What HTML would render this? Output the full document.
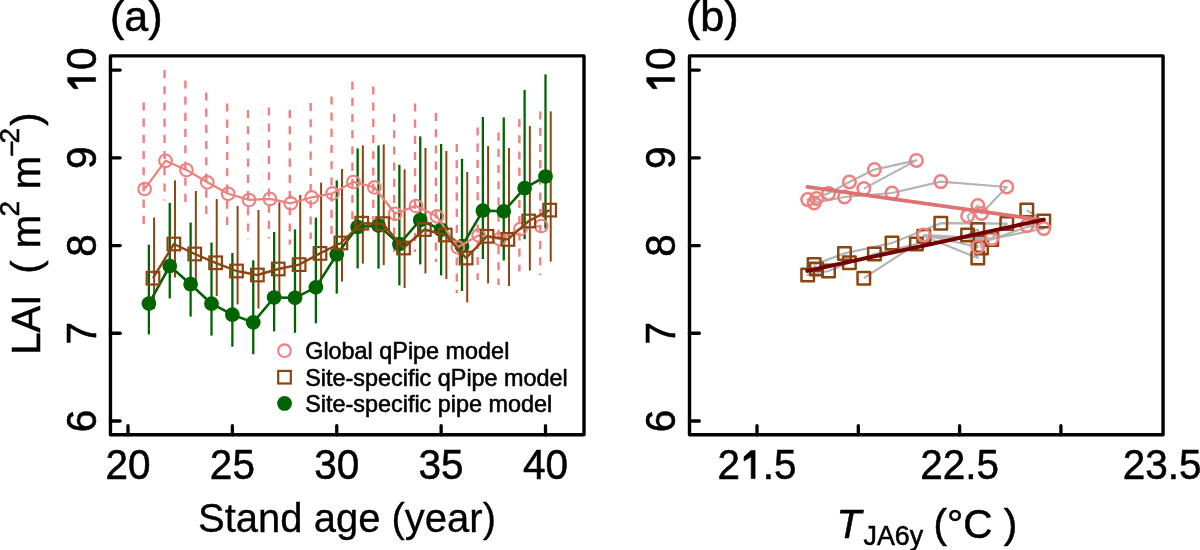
<!DOCTYPE html><html><head><meta charset="utf-8"><style>html,body{margin:0;padding:0;background:#fff;overflow:hidden}svg{display:block;will-change:transform}text{font-family:"Liberation Sans", sans-serif;stroke:#000;stroke-width:0.55px;paint-order:stroke}</style></head><body>
<svg width="1200" height="550" viewBox="0 0 1200 550">
<rect width="1200" height="550" fill="#fff"/>
<g stroke="#F08080" stroke-width="2.4" stroke-dasharray="8.1 8.1" fill="none"><line x1="143.66" y1="102.4" x2="143.66" y2="228"/><line x1="164.53" y1="70" x2="164.53" y2="200.4"/><line x1="185.41" y1="80.4" x2="185.41" y2="209.6"/><line x1="206.28" y1="92.4" x2="206.28" y2="222"/><line x1="227.16" y1="103.4" x2="227.16" y2="233"/><line x1="248.03" y1="110" x2="248.03" y2="240"/><line x1="268.9" y1="107.4" x2="268.9" y2="238.4"/><line x1="289.78" y1="110" x2="289.78" y2="244.4"/><line x1="310.65" y1="103" x2="310.65" y2="239"/><line x1="331.53" y1="96.4" x2="331.53" y2="235.5"/><line x1="352.4" y1="81.6" x2="352.4" y2="225.6"/><line x1="373.28" y1="86.4" x2="373.28" y2="231.3"/><line x1="394.15" y1="114" x2="394.15" y2="257"/><line x1="415.03" y1="103.4" x2="415.03" y2="252"/><line x1="435.9" y1="113" x2="435.9" y2="262"/><line x1="456.78" y1="144" x2="456.78" y2="293"/><line x1="477.65" y1="127.4" x2="477.65" y2="280"/><line x1="498.53" y1="132.6" x2="498.53" y2="285"/><line x1="519.4" y1="119" x2="519.4" y2="271.4"/><line x1="540.28" y1="111.5" x2="540.28" y2="275"/></g>
<g stroke="#8B4513" stroke-width="2" fill="none"><line x1="154.09" y1="217.6" x2="154.09" y2="309"/><line x1="174.97" y1="180.4" x2="174.97" y2="277.5"/><line x1="195.84" y1="191" x2="195.84" y2="286"/><line x1="216.72" y1="199" x2="216.72" y2="296"/><line x1="237.59" y1="206" x2="237.59" y2="304.3"/><line x1="258.47" y1="210" x2="258.47" y2="308.5"/><line x1="279.35" y1="202.4" x2="279.35" y2="299"/><line x1="300.22" y1="195" x2="300.22" y2="293"/><line x1="321.1" y1="182.6" x2="321.1" y2="285"/><line x1="341.97" y1="169" x2="341.97" y2="281.6"/><line x1="362.85" y1="145.4" x2="362.85" y2="263.6"/><line x1="383.72" y1="144.4" x2="383.72" y2="265"/><line x1="404.6" y1="169.4" x2="404.6" y2="288"/><line x1="425.47" y1="148" x2="425.47" y2="273.4"/><line x1="446.35" y1="151" x2="446.35" y2="279"/><line x1="467.22" y1="172" x2="467.22" y2="302.4"/><line x1="488.1" y1="146" x2="488.1" y2="283.4"/><line x1="508.97" y1="148" x2="508.97" y2="286"/><line x1="529.85" y1="126" x2="529.85" y2="270.6"/><line x1="550.72" y1="111.4" x2="550.72" y2="261.6"/></g>
<g stroke="#006400" stroke-width="2.3" fill="none"><line x1="148.88" y1="244.7" x2="148.88" y2="334.4"/><line x1="169.75" y1="203" x2="169.75" y2="298.4"/><line x1="190.62" y1="222.6" x2="190.62" y2="316.6"/><line x1="211.5" y1="242.5" x2="211.5" y2="335.6"/><line x1="232.38" y1="253" x2="232.38" y2="346.7"/><line x1="253.25" y1="260.3" x2="253.25" y2="354.2"/><line x1="274.12" y1="232" x2="274.12" y2="331.5"/><line x1="295" y1="229.4" x2="295" y2="332.8"/><line x1="315.88" y1="217.6" x2="315.88" y2="323.4"/><line x1="336.75" y1="180.4" x2="336.75" y2="293.6"/><line x1="357.62" y1="148.4" x2="357.62" y2="268.4"/><line x1="378.5" y1="145.4" x2="378.5" y2="268.6"/><line x1="399.38" y1="164.8" x2="399.38" y2="285.4"/><line x1="420.25" y1="136.4" x2="420.25" y2="264.4"/><line x1="441.12" y1="144" x2="441.12" y2="275.4"/><line x1="462" y1="158.8" x2="462" y2="291"/><line x1="482.88" y1="117" x2="482.88" y2="259"/><line x1="503.75" y1="117.4" x2="503.75" y2="260.5"/><line x1="524.62" y1="90" x2="524.62" y2="239.2"/><line x1="545.5" y1="74.4" x2="545.5" y2="228.6"/></g>
<polyline points="148.88,303.6 169.75,266 190.62,284.2 211.5,303.7 232.38,314.7 253.25,322.4 274.12,297.5 295,297.8 315.88,287.4 336.75,254.5 357.62,227 378.5,225.6 399.38,244 420.25,220 441.12,229.8 462,246.2 482.88,210.6 503.75,211.3 524.62,188.2 545.5,176.5" fill="none" stroke="#006400" stroke-width="2.6" stroke-linejoin="round"/>
<g fill="#006400"><circle cx="148.88" cy="303.6" r="7.35"/><circle cx="169.75" cy="266" r="7.35"/><circle cx="190.62" cy="284.2" r="7.35"/><circle cx="211.5" cy="303.7" r="7.35"/><circle cx="232.38" cy="314.7" r="7.35"/><circle cx="253.25" cy="322.4" r="7.35"/><circle cx="274.12" cy="297.5" r="7.35"/><circle cx="295" cy="297.8" r="7.35"/><circle cx="315.88" cy="287.4" r="7.35"/><circle cx="336.75" cy="254.5" r="7.35"/><circle cx="357.62" cy="227" r="7.35"/><circle cx="378.5" cy="225.6" r="7.35"/><circle cx="399.38" cy="244" r="7.35"/><circle cx="420.25" cy="220" r="7.35"/><circle cx="441.12" cy="229.8" r="7.35"/><circle cx="462" cy="246.2" r="7.35"/><circle cx="482.88" cy="210.6" r="7.35"/><circle cx="503.75" cy="211.3" r="7.35"/><circle cx="524.62" cy="188.2" r="7.35"/><circle cx="545.5" cy="176.5" r="7.35"/></g>
<polyline points="144.66,188.9 165.53,160.7 186.41,169.9 207.28,182.3 228.16,193.7 249.03,199.9 269.9,198.9 290.78,203.3 311.65,197.3 332.53,193.3 353.4,181.9 374.28,187.3 395.15,213.7 416.03,205.9 436.9,216.3 457.78,247.3 478.65,235.3 499.53,238.9 520.4,228.9 541.28,225.9" fill="none" stroke="#F08080" stroke-width="2.2" stroke-linejoin="round"/>
<g fill="none" stroke="#F08080" stroke-width="2.1"><circle cx="144.66" cy="189" r="6.3"/><circle cx="165.53" cy="160.8" r="6.3"/><circle cx="186.41" cy="170" r="6.3"/><circle cx="207.28" cy="182.4" r="6.3"/><circle cx="228.16" cy="193.8" r="6.3"/><circle cx="249.03" cy="200" r="6.3"/><circle cx="269.9" cy="199" r="6.3"/><circle cx="290.78" cy="203.4" r="6.3"/><circle cx="311.65" cy="197.4" r="6.3"/><circle cx="332.53" cy="193.4" r="6.3"/><circle cx="353.4" cy="182" r="6.3"/><circle cx="374.28" cy="187.4" r="6.3"/><circle cx="395.15" cy="213.8" r="6.3"/><circle cx="416.03" cy="206" r="6.3"/><circle cx="436.9" cy="216.4" r="6.3"/><circle cx="457.78" cy="247.4" r="6.3"/><circle cx="478.65" cy="235.4" r="6.3"/><circle cx="499.53" cy="239" r="6.3"/><circle cx="520.4" cy="229" r="6.3"/><circle cx="541.28" cy="226" r="6.3"/></g>
<polyline points="153,278.2 173.87,244 194.75,254 215.62,262.8 236.5,271 257.37,275 278.25,269 299.12,264.6 320,253.4 340.87,243 361.75,223.2 382.62,223.6 403.5,248 424.37,229.5 445.25,235 466.12,258 487,236.3 507.87,239.4 528.75,221 549.62,210.1" fill="none" stroke="#8B4513" stroke-width="2.4" stroke-linejoin="round"/>
<g fill="none" stroke="#8B4513" stroke-width="2.2"><rect x="146.69" y="271.9" width="12.6" height="12.6"/><rect x="167.57" y="237.7" width="12.6" height="12.6"/><rect x="188.44" y="247.7" width="12.6" height="12.6"/><rect x="209.32" y="256.5" width="12.6" height="12.6"/><rect x="230.19" y="264.7" width="12.6" height="12.6"/><rect x="251.07" y="268.7" width="12.6" height="12.6"/><rect x="271.94" y="262.7" width="12.6" height="12.6"/><rect x="292.82" y="258.3" width="12.6" height="12.6"/><rect x="313.69" y="247.1" width="12.6" height="12.6"/><rect x="334.57" y="236.7" width="12.6" height="12.6"/><rect x="355.44" y="216.9" width="12.6" height="12.6"/><rect x="376.32" y="217.3" width="12.6" height="12.6"/><rect x="397.19" y="241.7" width="12.6" height="12.6"/><rect x="418.07" y="223.2" width="12.6" height="12.6"/><rect x="438.94" y="228.7" width="12.6" height="12.6"/><rect x="459.82" y="251.7" width="12.6" height="12.6"/><rect x="480.69" y="230" width="12.6" height="12.6"/><rect x="501.57" y="233.1" width="12.6" height="12.6"/><rect x="522.45" y="214.7" width="12.6" height="12.6"/><rect x="543.32" y="203.8" width="12.6" height="12.6"/></g>
<circle cx="284.5" cy="350.7" r="6.3" fill="none" stroke="#F08080" stroke-width="2.1"/>
<rect x="278.2" y="370.9" width="12.6" height="12.6" fill="none" stroke="#8B4513" stroke-width="2.2"/>
<circle cx="284.55" cy="403.4" r="7.4" fill="#006400"/>
<g font-size="23.4" fill="#000" style="stroke-width:0.2px">
<text x="305.2" y="358.9">Global qPipe model</text>
<text x="305.2" y="386">Site-specific qPipe model</text>
<text x="305.2" y="412.2">Site-specific pipe model</text>
</g>
<rect x="110.45" y="55.9" width="473.55" height="378.9" fill="none" stroke="#000" stroke-width="3.4" stroke-linejoin="round"/>
<g stroke="#000" stroke-width="3.3" stroke-linecap="round"><line x1="110.45" y1="421.01" x2="120.2" y2="421.01"/><line x1="110.45" y1="333.27" x2="120.2" y2="333.27"/><line x1="110.45" y1="245.53" x2="120.2" y2="245.53"/><line x1="110.45" y1="157.79" x2="120.2" y2="157.79"/><line x1="110.45" y1="70.05" x2="120.2" y2="70.05"/><line x1="128" y1="434.8" x2="128" y2="425.7"/><line x1="232.38" y1="434.8" x2="232.38" y2="425.7"/><line x1="336.75" y1="434.8" x2="336.75" y2="425.7"/><line x1="441.12" y1="434.8" x2="441.12" y2="425.7"/><line x1="545.5" y1="434.8" x2="545.5" y2="425.7"/></g>
<g transform="translate(128 478.5) scale(1 1.03)" font-size="40.5" fill="#000" stroke="#000"><text x="-22.52" y="0">20</text></g>
<g transform="translate(232.38 478.5) scale(1 1.03)" font-size="40.5" fill="#000" stroke="#000"><text x="-22.52" y="0">25</text></g>
<g transform="translate(336.75 478.5) scale(1 1.03)" font-size="40.5" fill="#000" stroke="#000"><text x="-22.52" y="0">30</text></g>
<g transform="translate(441.12 478.5) scale(1 1.03)" font-size="40.5" fill="#000" stroke="#000"><text x="-22.52" y="0">35</text></g>
<g transform="translate(545.5 478.5) scale(1 1.03)" font-size="40.5" fill="#000" stroke="#000"><text x="-22.52" y="0">40</text></g>
<g transform="translate(95.6 421.01) rotate(-90) scale(1 1.03)" font-size="40.5" fill="#000" stroke="#000"><text x="-11.26" y="0">6</text></g>
<g transform="translate(95.6 333.27) rotate(-90) scale(1 1.03)" font-size="40.5" fill="#000" stroke="#000"><text x="-11.26" y="0">7</text></g>
<g transform="translate(95.6 245.53) rotate(-90) scale(1 1.03)" font-size="40.5" fill="#000" stroke="#000"><text x="-11.26" y="0">8</text></g>
<g transform="translate(95.6 157.79) rotate(-90) scale(1 1.03)" font-size="40.5" fill="#000" stroke="#000"><text x="-11.26" y="0">9</text></g>
<g transform="translate(95.6 70.05) rotate(-90) scale(1 1.03)" font-size="40.5" fill="#000" stroke="#000"><path transform="translate(-22.52 0) scale(0.01978 -0.01978)" d="M759 0H559V1065L197 855V1065L545 1370H759Z" stroke-width="27.81"/><text x="0" y="0">0</text></g>
<text x="347" y="531.9" font-size="40" text-anchor="middle" style="stroke-width:0.3px">Stand age (year)</text>
<g transform="translate(40.1 352.8) rotate(-90)" font-size="40">
<text x="-2" y="0">LAI</text>
<text x="79" y="0">(</text>
<text x="104.5" y="0">m</text>
<text x="136.3" y="-21" font-size="28">2</text>
<text x="163.5" y="0">m</text>
<text x="196" y="-19.5" font-size="28">−</text>
<text x="209.2" y="-21" font-size="28">2</text>
<text x="227" y="0">)</text>
</g>
<text x="110" y="30.5" font-size="43">(a)</text>
<polyline points="863.8,188.6 916.4,160.4 874.4,169.6 849.4,182 828.5,193.4 807.7,199.6 816.5,198.6 814.1,203 844.5,197 892,193 940.8,181.6 1006.8,187 981.5,213.4 977.8,205.6 967.6,216 977.8,247 923.8,235 991.8,238.6 1043.8,228.6 1026.8,225.6" fill="none" stroke="#B4B4B4" stroke-width="2.2" stroke-linejoin="round"/>
<polyline points="863.8,278.2 916.4,244 874.4,254 849.4,262.8 828.5,271 807.7,275 816.5,269 814.1,264.6 844.5,253.4 892,243 940.8,223.2 1006.8,223.6 981.5,248 977.8,229.5 967.6,235 977.8,258 923.8,236.3 991.8,239.4 1043.8,221 1026.8,210.1" fill="none" stroke="#B4B4B4" stroke-width="2.2" stroke-linejoin="round"/>
<g fill="none" stroke="#8B4513" stroke-width="2.5" stroke-linejoin="round"><rect x="857.55" y="271.95" width="12.5" height="12.5"/><rect x="910.15" y="237.75" width="12.5" height="12.5"/><rect x="868.15" y="247.75" width="12.5" height="12.5"/><rect x="843.15" y="256.55" width="12.5" height="12.5"/><rect x="822.25" y="264.75" width="12.5" height="12.5"/><rect x="801.45" y="268.75" width="12.5" height="12.5"/><rect x="810.25" y="262.75" width="12.5" height="12.5"/><rect x="807.85" y="258.35" width="12.5" height="12.5"/><rect x="838.25" y="247.15" width="12.5" height="12.5"/><rect x="885.75" y="236.75" width="12.5" height="12.5"/><rect x="934.55" y="216.95" width="12.5" height="12.5"/><rect x="1000.55" y="217.35" width="12.5" height="12.5"/><rect x="975.25" y="241.75" width="12.5" height="12.5"/><rect x="971.55" y="223.25" width="12.5" height="12.5"/><rect x="961.35" y="228.75" width="12.5" height="12.5"/><rect x="971.55" y="251.75" width="12.5" height="12.5"/><rect x="917.55" y="230.05" width="12.5" height="12.5"/><rect x="985.55" y="233.15" width="12.5" height="12.5"/><rect x="1037.55" y="214.75" width="12.5" height="12.5"/><rect x="1020.55" y="203.85" width="12.5" height="12.5"/></g>
<g fill="none" stroke="#F08080" stroke-width="2.5"><circle cx="863.8" cy="188.6" r="6.25"/><circle cx="916.4" cy="160.4" r="6.25"/><circle cx="874.4" cy="169.6" r="6.25"/><circle cx="849.4" cy="182" r="6.25"/><circle cx="828.5" cy="193.4" r="6.25"/><circle cx="807.7" cy="199.6" r="6.25"/><circle cx="816.5" cy="198.6" r="6.25"/><circle cx="814.1" cy="203" r="6.25"/><circle cx="844.5" cy="197" r="6.25"/><circle cx="892" cy="193" r="6.25"/><circle cx="940.8" cy="181.6" r="6.25"/><circle cx="1006.8" cy="187" r="6.25"/><circle cx="981.5" cy="213.4" r="6.25"/><circle cx="977.8" cy="205.6" r="6.25"/><circle cx="967.6" cy="216" r="6.25"/><circle cx="977.8" cy="247" r="6.25"/><circle cx="923.8" cy="235" r="6.25"/><circle cx="991.8" cy="238.6" r="6.25"/><circle cx="1043.8" cy="228.6" r="6.25"/><circle cx="1026.8" cy="225.6" r="6.25"/></g>
<line x1="807.3" y1="186.8" x2="1043.8" y2="220.3" stroke="#DE7272" stroke-width="3.7" stroke-linecap="round"/>
<line x1="807.3" y1="270.9" x2="1043.8" y2="219.6" stroke="#730000" stroke-width="4" stroke-linecap="round"/>
<rect x="689.5" y="55.9" width="473.55" height="378.9" fill="none" stroke="#000" stroke-width="3.4" stroke-linejoin="round"/>
<g stroke="#000" stroke-width="3.3" stroke-linecap="round"><line x1="689.5" y1="421.01" x2="699.3" y2="421.01"/><line x1="689.5" y1="333.27" x2="699.3" y2="333.27"/><line x1="689.5" y1="245.53" x2="699.3" y2="245.53"/><line x1="689.5" y1="157.79" x2="699.3" y2="157.79"/><line x1="689.5" y1="70.05" x2="699.3" y2="70.05"/><line x1="757" y1="434.8" x2="757" y2="425.7"/><line x1="858.3" y1="434.8" x2="858.3" y2="425.7"/><line x1="959.6" y1="434.8" x2="959.6" y2="425.7"/><line x1="1060.9" y1="434.8" x2="1060.9" y2="425.7"/></g>
<g transform="translate(757 478.5) scale(1 1.03)" font-size="40.5" fill="#000" stroke="#000"><text x="-39.41" y="0">2</text><path transform="translate(-16.89 0) scale(0.01978 -0.01978)" d="M759 0H559V1065L197 855V1065L545 1370H759Z" stroke-width="27.81"/><text x="5.64" y="0">.5</text></g>
<g transform="translate(959.6 478.5) scale(1 1.03)" font-size="40.5" fill="#000" stroke="#000"><text x="-39.41" y="0">22.5</text></g>
<g transform="translate(1162.2 478.5) scale(1 1.03)" font-size="40.5" fill="#000" stroke="#000"><text x="-39.41" y="0">23.5</text></g>
<g transform="translate(674.6 421.01) rotate(-90) scale(1 1.03)" font-size="40.5" fill="#000" stroke="#000"><text x="-11.26" y="0">6</text></g>
<g transform="translate(674.6 333.27) rotate(-90) scale(1 1.03)" font-size="40.5" fill="#000" stroke="#000"><text x="-11.26" y="0">7</text></g>
<g transform="translate(674.6 245.53) rotate(-90) scale(1 1.03)" font-size="40.5" fill="#000" stroke="#000"><text x="-11.26" y="0">8</text></g>
<g transform="translate(674.6 157.79) rotate(-90) scale(1 1.03)" font-size="40.5" fill="#000" stroke="#000"><text x="-11.26" y="0">9</text></g>
<g transform="translate(674.6 70.05) rotate(-90) scale(1 1.03)" font-size="40.5" fill="#000" stroke="#000"><path transform="translate(-22.52 0) scale(0.01978 -0.01978)" d="M759 0H559V1065L197 855V1065L545 1370H759Z" stroke-width="27.81"/><text x="0" y="0">0</text></g>
<text x="836.5" y="538" font-size="40.5" font-style="italic">T</text>
<text x="863.5" y="544.5" font-size="26.8">JA6y</text>
<text x="933.5" y="538" font-size="40.5">(°C )</text>
<text x="686" y="30.5" font-size="43">(b)</text>
</svg></body></html>
